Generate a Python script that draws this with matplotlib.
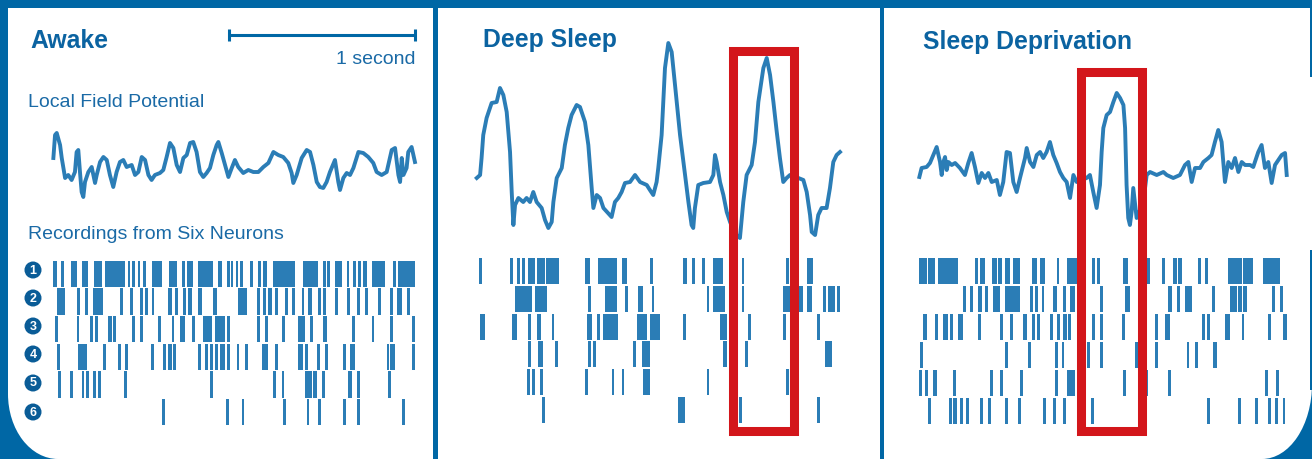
import numpy as np
import matplotlib
matplotlib.use("Agg")
from matplotlib import pyplot as plt
from matplotlib.patches import Rectangle, Ellipse, Circle

# ---------------- data (time in s, LFP in arbitrary units) ----------------
awake_t = [0.002, 0.011, 0.020, 0.038, 0.047, 0.056, 0.065, 0.082, 0.100, 0.118,
           0.127, 0.136, 0.145, 0.154, 0.163, 0.172, 0.190, 0.208, 0.226, 0.235,
           0.253, 0.271, 0.289, 0.306, 0.324, 0.342, 0.360, 0.378, 0.396, 0.423,
           0.441, 0.459, 0.477, 0.495, 0.513, 0.530, 0.548, 0.575, 0.593, 0.611,
           0.629, 0.647, 0.665, 0.683, 0.701, 0.719, 0.737, 0.754, 0.772, 0.790,
           0.808, 0.826, 0.844, 0.862, 0.880, 0.889, 0.907, 0.925, 0.943, 0.961,
           0.978, 0.996, 1.023, 1.050, 1.077, 1.104, 1.131, 1.158, 1.185, 1.211,
           1.238, 1.265, 1.283, 1.292, 1.310, 1.337, 1.364, 1.382, 1.400, 1.418,
           1.435, 1.453, 1.471, 1.489, 1.516, 1.534, 1.543, 1.561, 1.579, 1.597,
           1.615, 1.642, 1.668, 1.695, 1.722, 1.740, 1.767, 1.794, 1.821, 1.839,
           1.857, 1.866, 1.875, 1.884, 1.901, 1.910, 1.928, 1.946]
awake_lfp = [12, 35, 37, 25, 12, 2, -8, -5, -10, -2,
             18, 20, -2, -22, -27, -12, -2, 3, -13, -5,
             8, 13, 10, -5, -17, -2, 8, 10, 3, 5,
             -5, -2, 13, 10, -5, -10, -5, -3, 0, 13,
             27, 22, 5, -2, 12, 15, 27, 28, 18, -2,
             -7, -3, 2, 15, 25, 28, 17, 5, -7, 2,
             10, 3, -3, 0, -2, -2, 3, 7, 18, 15,
             13, 7, -3, -13, -5, 12, 20, 18, 5, -12,
             -17, -18, -12, -2, 10, -12, -20, -8, -3, -5,
             2, 18, 17, 13, 7, -2, -5, -2, 20, 22,
             -5, -12, 12, -5, 2, 18, 23, 8]

deep_t = [0.004, 0.022, 0.030, 0.039, 0.057, 0.084, 0.111, 0.129, 0.147, 0.165,
          0.183, 0.192, 0.201, 0.210, 0.228, 0.254, 0.272, 0.290, 0.308, 0.326,
          0.353, 0.371, 0.389, 0.407, 0.416, 0.434, 0.461, 0.478, 0.496, 0.514,
          0.541, 0.559, 0.586, 0.604, 0.622, 0.631, 0.649, 0.667, 0.685, 0.729,
          0.747, 0.765, 0.783, 0.801, 0.828, 0.855, 0.882, 0.918, 0.935, 0.953,
          0.971, 0.980, 0.998, 1.016, 1.034, 1.052, 1.070, 1.097, 1.124, 1.142,
          1.159, 1.168, 1.177, 1.195, 1.222, 1.258, 1.276, 1.285, 1.294, 1.312,
          1.330, 1.348, 1.366, 1.384, 1.401, 1.419, 1.437, 1.455, 1.482, 1.500,
          1.518, 1.545, 1.563, 1.581, 1.599, 1.617, 1.634, 1.652, 1.670, 1.688,
          1.733, 1.760, 1.778, 1.796, 1.805, 1.823, 1.840, 1.858, 1.885, 1.903,
          1.921, 1.939, 1.957]
deep_lfp = [2, 5, 22, 45, 62, 77, 78, 92, 85, 68,
            28, -12, -45, -25, -18, -22, -18, -22, -12, -22,
            -28, -40, -48, -42, -22, 2, 12, 35, 52, 65,
            75, 73, 58, 35, -8, -28, -15, -18, -28, -37,
            -22, -18, -12, -3, -2, 5, -2, -5, -10, -15,
            -2, 12, 45, 112, 137, 128, 95, 45, 5, -22,
            -45, -48, -28, -5, -3, -2, 5, 25, 18, -2,
            -15, -32, -42, -50, -55, -58, -22, 5, 15, 38,
            78, 112, 122, 105, 78, 48, 22, -2, 2, 5,
            2, 0, -12, -35, -52, -55, -35, -28, -28, -8,
            18, 25, 28]

sdep_t = [0.002, 0.014, 0.041, 0.059, 0.077, 0.095, 0.113, 0.122, 0.131, 0.140,
          0.149, 0.158, 0.176, 0.194, 0.220, 0.247, 0.265, 0.283, 0.301, 0.319,
          0.337, 0.355, 0.373, 0.391, 0.418, 0.435, 0.453, 0.471, 0.489, 0.507,
          0.525, 0.543, 0.570, 0.579, 0.597, 0.615, 0.633, 0.651, 0.668, 0.686,
          0.704, 0.722, 0.740, 0.758, 0.776, 0.794, 0.812, 0.830, 0.848, 0.901,
          0.919, 0.937, 0.955, 0.973, 0.982, 0.991, 1.009, 1.027, 1.045, 1.063,
          1.081, 1.099, 1.108, 1.116, 1.125, 1.134, 1.143, 1.152, 1.170, 1.206,
          1.224, 1.242, 1.278, 1.314, 1.332, 1.367, 1.403, 1.430, 1.448, 1.466,
          1.484, 1.511, 1.529, 1.556, 1.573, 1.591, 1.609, 1.627, 1.645, 1.663,
          1.681, 1.699, 1.717, 1.735, 1.753, 1.780, 1.797, 1.824, 1.842, 1.860,
          1.878, 1.896, 1.914, 1.932, 1.950, 1.968, 1.977]
sdep_lfp = [-7, 2, 3, 7, 15, 23, 8, -5, 8, 13,
            0, 8, 5, 7, 2, -5, 7, 17, 3, -13,
            -3, -8, -3, -12, -10, -25, -12, 18, 17, -12,
            -22, -8, 12, 22, 8, 3, 15, 18, 12, 18,
            28, 15, 7, -2, -8, -12, -28, -5, -12, -8,
            -5, -22, -38, -15, 18, 42, 55, 58, 68, 77,
            72, 65, 42, -15, -48, -55, -42, -18, -48, -32,
            -5, -2, -5, -2, -5, -8, -5, 5, 8, -12,
            2, 2, 8, 12, 15, 28, 40, 28, -12, 8,
            2, 12, -2, 8, 5, 5, 3, 18, 25, 2,
            8, -13, 5, 10, 15, 17, -5]

# spike trains: (onset s, duration s) per neuron, neuron 1 on top
awake_spikes = [
    [(0.002, 0.018), (0.043, 0.013), (0.097, 0.030), (0.154, 0.036), (0.222, 0.039),
     (0.280, 0.108), (0.401, 0.013), (0.427, 0.014), (0.455, 0.013), (0.486, 0.009),
     (0.534, 0.050), (0.624, 0.041), (0.692, 0.009), (0.719, 0.036), (0.781, 0.081),
     (0.885, 0.022), (0.934, 0.009), (0.955, 0.009), (0.982, 0.011), (1.005, 0.009),
     (1.059, 0.018), (1.104, 0.014), (1.131, 0.018), (1.181, 0.120), (1.346, 0.081),
     (1.453, 0.009), (1.471, 0.018), (1.516, 0.036), (1.579, 0.009), (1.615, 0.009),
     (1.642, 0.009), (1.668, 0.018), (1.713, 0.072), (1.830, 0.009), (1.857, 0.089)],
    [(0.020, 0.045), (0.127, 0.018), (0.172, 0.018), (0.217, 0.054), (0.360, 0.009),
     (0.414, 0.018), (0.468, 0.009), (0.495, 0.018), (0.530, 0.009), (0.620, 0.018),
     (0.656, 0.018), (0.701, 0.009), (0.728, 0.018), (0.781, 0.018), (0.862, 0.018),
     (0.996, 0.045), (1.095, 0.018), (1.131, 0.009), (1.158, 0.018), (1.194, 0.018),
     (1.247, 0.009), (1.283, 0.018), (1.337, 0.009), (1.373, 0.018), (1.427, 0.009),
     (1.453, 0.009), (1.516, 0.018), (1.579, 0.018), (1.633, 0.009), (1.677, 0.018),
     (1.749, 0.009), (1.812, 0.018), (1.848, 0.027), (1.901, 0.018)],
    [(0.011, 0.009), (0.127, 0.009), (0.199, 0.018), (0.226, 0.018), (0.297, 0.018),
     (0.324, 0.013), (0.423, 0.018), (0.468, 0.018), (0.566, 0.009), (0.638, 0.009),
     (0.683, 0.027), (0.746, 0.009), (0.808, 0.045), (0.871, 0.054), (0.934, 0.018),
     (1.095, 0.018), (1.140, 0.018), (1.229, 0.018), (1.319, 0.036), (1.382, 0.018),
     (1.453, 0.018), (1.606, 0.009), (1.713, 0.009), (1.812, 0.009), (1.928, 0.018)],
    [(0.020, 0.009), (0.136, 0.045), (0.271, 0.013), (0.351, 0.009), (0.387, 0.018),
     (0.527, 0.013), (0.593, 0.009), (0.620, 0.018), (0.647, 0.009), (0.781, 0.009),
     (0.817, 0.018), (0.844, 0.018), (0.871, 0.018), (0.898, 0.027), (0.934, 0.018),
     (0.987, 0.009), (1.032, 0.009), (1.122, 0.036), (1.194, 0.018), (1.319, 0.027),
     (1.355, 0.018), (1.418, 0.018), (1.462, 0.018), (1.561, 0.009), (1.597, 0.027),
     (1.794, 0.009), (1.812, 0.027), (1.928, 0.018)],
    [(0.029, 0.013), (0.091, 0.013), (0.154, 0.013), (0.176, 0.013), (0.217, 0.009),
     (0.244, 0.009), (0.382, 0.011), (0.844, 0.009), (1.185, 0.013), (1.229, 0.009),
     (1.355, 0.036), (1.400, 0.018), (1.444, 0.018), (1.588, 0.018), (1.633, 0.009),
     (1.803, 0.009)],
    [(0.584, 0.020), (0.930, 0.013), (1.014, 0.013), (1.238, 0.013), (1.364, 0.013),
     (1.427, 0.013), (1.561, 0.009), (1.633, 0.013), (1.875, 0.013)],
]

deep_spikes = [
    [(0.018, 0.013), (0.183, 0.018), (0.219, 0.018), (0.246, 0.018), (0.281, 0.036),
     (0.326, 0.045), (0.376, 0.072), (0.586, 0.027), (0.658, 0.045), (0.703, 0.054),
     (0.783, 0.027), (0.935, 0.018), (1.115, 0.018), (1.159, 0.018), (1.213, 0.018),
     (1.276, 0.054), (1.428, 0.011), (1.667, 0.013), (1.778, 0.018), (1.796, 0.018)],
    [(0.210, 0.090), (0.317, 0.027), (0.344, 0.036), (0.604, 0.009), (0.694, 0.063),
     (0.801, 0.018), (0.873, 0.027), (0.944, 0.009), (1.240, 0.009), (1.276, 0.063),
     (1.428, 0.009), (1.652, 0.036), (1.733, 0.027), (1.778, 0.027), (1.867, 0.009),
     (1.894, 0.036), (1.939, 0.018)],
    [(0.022, 0.027), (0.192, 0.027), (0.281, 0.013), (0.326, 0.022), (0.407, 0.009),
     (0.595, 0.027), (0.649, 0.013), (0.685, 0.081), (0.864, 0.018), (0.882, 0.036),
     (0.935, 0.054), (1.115, 0.009), (1.312, 0.036), (1.464, 0.009), (1.652, 0.009),
     (1.832, 0.009)],
    [(0.281, 0.009), (0.335, 0.027), (0.425, 0.009), (0.604, 0.009), (0.631, 0.009),
     (0.846, 0.009), (0.891, 0.045), (1.330, 0.018), (1.446, 0.009), (1.876, 0.036)],
    [(0.272, 0.018), (0.299, 0.018), (0.344, 0.009), (0.586, 0.018), (0.729, 0.009),
     (0.783, 0.009), (0.900, 0.036), (1.240, 0.009), (1.667, 0.013)],
    [(0.353, 0.018), (1.088, 0.036), (1.416, 0.013), (1.832, 0.009)],
]

sdep_spikes = [
    [(0.000, 0.045), (0.050, 0.036), (0.104, 0.108), (0.301, 0.018), (0.328, 0.027),
     (0.391, 0.027), (0.427, 0.018), (0.462, 0.027), (0.507, 0.036), (0.606, 0.027),
     (0.651, 0.027), (0.740, 0.009), (0.794, 0.090), (0.928, 0.018), (0.955, 0.018),
     (1.099, 0.027), (1.224, 0.018), (1.305, 0.018), (1.367, 0.018), (1.394, 0.018),
     (1.502, 0.009), (1.538, 0.009), (1.663, 0.072), (1.744, 0.054), (1.851, 0.090)],
    [(0.238, 0.009), (0.274, 0.018), (0.319, 0.018), (0.355, 0.018), (0.400, 0.036),
     (0.462, 0.081), (0.597, 0.009), (0.624, 0.009), (0.659, 0.009), (0.722, 0.018),
     (0.776, 0.009), (0.812, 0.027), (0.884, 0.009), (0.973, 0.018), (1.108, 0.027),
     (1.341, 0.018), (1.385, 0.018), (1.430, 0.009), (1.448, 0.018), (1.573, 0.018),
     (1.672, 0.036), (1.717, 0.018), (1.744, 0.018), (1.896, 0.018), (1.941, 0.018)],
    [(0.023, 0.018), (0.086, 0.018), (0.131, 0.027), (0.167, 0.018), (0.211, 0.027),
     (0.319, 0.009), (0.435, 0.018), (0.489, 0.009), (0.561, 0.018), (0.606, 0.009),
     (0.633, 0.009), (0.704, 0.018), (0.740, 0.018), (0.776, 0.018), (0.803, 0.009),
     (0.928, 0.018), (0.973, 0.009), (1.090, 0.018), (1.269, 0.018), (1.323, 0.027),
     (1.520, 0.018), (1.547, 0.018), (1.645, 0.027), (1.735, 0.009), (1.878, 0.009),
     (1.959, 0.018)],
    [(0.005, 0.013), (0.462, 0.018), (0.588, 0.009), (0.731, 0.009), (0.767, 0.009),
     (0.901, 0.018), (0.973, 0.009), (1.161, 0.018), (1.269, 0.009), (1.439, 0.009),
     (1.484, 0.009), (1.582, 0.018)],
    [(0.000, 0.018), (0.032, 0.018), (0.077, 0.018), (0.185, 0.013), (0.382, 0.018),
     (0.435, 0.013), (0.543, 0.013), (0.731, 0.013), (0.794, 0.045), (1.099, 0.013),
     (1.215, 0.018), (1.341, 0.013), (1.860, 0.013), (1.919, 0.013)],
    [(0.050, 0.013), (0.163, 0.013), (0.185, 0.018), (0.220, 0.013), (0.253, 0.013),
     (0.328, 0.013), (0.373, 0.013), (0.462, 0.013), (0.534, 0.013), (0.668, 0.013),
     (0.719, 0.009), (0.776, 0.013), (0.925, 0.013), (1.547, 0.013), (1.717, 0.009),
     (1.806, 0.009), (1.878, 0.013), (1.914, 0.009), (1.955, 0.013)],
]

# highlighted time windows (s)
deep_window = (1.38, 1.71)
sdep_window = (0.87, 1.20)

titles = ["Awake", "Deep Sleep", "Sleep Deprivation"]
neuron_labels = ["1", "2", "3", "4", "5", "6"]

# ---------------- style / layout ----------------
W, H = 1312, 459
PX_PER_S = 186          # length of the "1 second" bar in pixels
FRAME = "#0067a5"
TITLE_C = "#0b63a1"
TEXT_C = "#1a6aa6"
TRACE = "#2b7db6"
BADGE = "#0a5c97"
RED = "#d3161b"

plt.rcParams['font.family'] = ['Liberation Sans', 'DejaVu Sans']

fig = plt.figure(figsize=(W / 100, H / 100), dpi=100, facecolor=FRAME)
bg = fig.add_axes([0, 0, 1, 1])
bg.set_xlim(0, W)
bg.set_ylim(H, 0)
bg.axis("off")


def px_axes(x0, y0, x1, y1):
    ax = fig.add_axes([x0 / W, 1 - y1 / H, (x1 - x0) / W, (y1 - y0) / H])
    ax.axis("off")
    return ax


# white panels
bg.add_patch(Rectangle((8, 8), 425, 460, color="white", lw=0))
bg.add_patch(Rectangle((438, 8), 442, 460, color="white", lw=0))
bg.add_patch(Rectangle((884, 8), 440, 460, color="white", lw=0))
# rounded outer corners
bg.add_patch(Rectangle((8, 394), 50, 70, color=FRAME, lw=0))
bg.add_patch(Ellipse((58, 394), 100, 130, color="white", lw=0))
bg.add_patch(Rectangle((1262, 384), 55, 80, color=FRAME, lw=0))
bg.add_patch(Ellipse((1262, 384), 100, 150, color="white", lw=0))
bg.add_patch(Rectangle((1310, 8), 3, 69, color=FRAME, lw=0))
bg.add_patch(Rectangle((1310, 250), 3, 140, color=FRAME, lw=0))

# titles
title_pos = [(30, 48.5), (483, 47), (923, 49)]
for (tx, ty), name in zip(title_pos, titles):
    bg.text(tx, ty, name, fontsize=17.8, fontweight="bold", color=TITLE_C,
            ha="left", va="baseline")

# scale bar
bar_r = 415
bg.plot([bar_r - PX_PER_S, bar_r], [35, 35], color=FRAME, lw=2.2, solid_capstyle="butt")
for bx in (bar_r - PX_PER_S, bar_r):
    bg.plot([bx, bx], [29, 41], color=FRAME, lw=2.2, solid_capstyle="butt")
bg.text(bar_r + 1, 64, "1 second", fontsize=14, color=TEXT_C, ha="right", va="baseline")

bg.text(28, 107, "Local Field Potential", fontsize=14, color=TEXT_C, va="baseline")
bg.text(28, 239, "Recordings from Six Neurons", fontsize=14, color=TEXT_C, va="baseline")

circle_y = [270, 298, 326, 354, 383, 412]
for cy, lab in zip(circle_y, neuron_labels):
    bg.add_patch(Circle((33, cy), 8.5, color=BADGE, lw=0))
    bg.text(33, cy + 0.5, lab, fontsize=9, fontweight="bold", color="white",
            ha="center", va="center")

# ---------------- traces and rasters ----------------
panels = [
    dict(x0=53, base=170, lo=-50, hi=50, t=awake_t, v=awake_lfp,
         spikes=awake_spikes, rtop=260, rbot=426, win=None),
    dict(x0=476, base=180, lo=-70, hi=150, t=deep_t, v=deep_lfp,
         spikes=deep_spikes, rtop=257, rbot=424, win=deep_window),
    dict(x0=919, base=170, lo=-70, hi=90, t=sdep_t, v=sdep_lfp,
         spikes=sdep_spikes, rtop=257, rbot=425, win=sdep_window),
]
span = 2.0
for p in panels:
    ax = px_axes(p["x0"], p["base"] - p["hi"], p["x0"] + span * PX_PER_S, p["base"] - p["lo"])
    ax.set_xlim(0, span)
    ax.set_ylim(p["lo"], p["hi"])
    ax.plot(p["t"], p["v"], color=TRACE, lw=2.8, solid_joinstyle="round", clip_on=False)

    rax = px_axes(p["x0"], p["rtop"], p["x0"] + span * PX_PER_S, p["rbot"])
    rax.set_xlim(0, span)
    rax.set_ylim(6, 0)
    for i, row in enumerate(p["spikes"]):
        bars = [(s, max(d, 0.015)) for s, d in row]
        rax.broken_barh(bars, (i + 0.03, 0.94), facecolors=TRACE, lw=0)

# red highlight boxes on top
top = fig.add_axes([0, 0, 1, 1])
top.set_xlim(0, W)
top.set_ylim(H, 0)
top.axis("off")
box_y = {476: (50.5, 430.5), 919: (71.5, 430.5)}
for p in panels:
    if p["win"] is None:
        continue
    xa = p["x0"] + p["win"][0] * PX_PER_S
    xb = p["x0"] + p["win"][1] * PX_PER_S
    ya, yb = box_y[p["x0"]]
    top.add_patch(Rectangle((xa, ya), xb - xa, yb - ya, fill=False, ec=RED, lw=6.5,
                            joinstyle="miter"))

fig.savefig("out.png", dpi=100, facecolor=FRAME)
